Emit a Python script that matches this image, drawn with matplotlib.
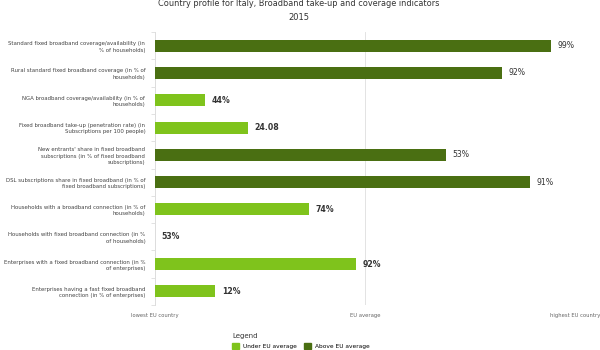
import numpy as np
import matplotlib.pyplot as plt
from matplotlib.patches import Patch

indicators = [
    'Standard fixed broadband coverage/availability (in\n% of households)',
    'Rural standard fixed broadband coverage (in % of\nhouseholds)',
    'NGA broadband coverage/availability (in % of\nhouseholds)',
    'Fixed broadband take-up (penetration rate) (in\nSubscriptions per 100 people)',
    "New entrants' share in fixed broadband\nsubscriptions (in % of fixed broadband\nsubscriptions)",
    'DSL subscriptions share in fixed broadband (in % of\nfixed broadband subscriptions)',
    'Households with a broadband connection (in % of\nhouseholds)',
    'Households with fixed broadband connection (in %\nof households)',
    'Enterprises with a fixed broadband connection (in %\nof enterprises)',
    'Enterprises having a fast fixed broadband\nconnection (in % of enterprises)',
]
value_labels = ['99%', '92%', '44%', '24.08', '53%', '91%', '74%', '53%', '92%', '12%']
# position between lowest (0) and highest (100) EU country, EU average at 50
score = [94.3, 82.6, 11.9, 22.1, 69.3, 89.3, 36.7, 0.0, 47.9, 14.3]
above_avg = [True, True, False, False, True, True, False, False, False, False]

scale_ticks = [0, 50, 100]
scale_labels = ['lowest EU country', 'EU average', 'highest EU country']

dark_green = '#4a6f12'
light_green = '#7fc31c'

fig = plt.figure(figsize=(6, 3.5), dpi=100)
ax = fig.add_axes([155/600, 1 - 305/350, 420/600, 273/350])

y = np.arange(len(indicators))
colors = [dark_green if a else light_green for a in above_avg]
ax.barh(y, score, height=0.44, color=colors, zorder=3)

for yi, s, lab, a in zip(y, score, value_labels, above_avg):
    ax.text(s + 1.6, yi, lab, va='center', ha='left', fontsize=5.6,
            fontweight='normal' if a else 'bold', color='#333333')

ax.set_xlim(0, 100)
ax.set_ylim(len(indicators) - 0.5, -0.5)
ax.set_yticks(y)
ax.set_yticklabels(indicators, fontsize=3.9, color='#444444', linespacing=1.35)
ax.set_yticks(np.arange(len(indicators) + 1) - 0.5, minor=True)
ax.tick_params(axis='y', which='major', length=0, pad=7)
ax.tick_params(axis='y', which='minor', length=3, color='#dddddd', width=0.6)

ax.set_xticks(scale_ticks)
ax.set_xticklabels(scale_labels, fontsize=3.8, color='#666666')
ax.tick_params(axis='x', length=0, pad=6)
ax.grid(axis='x', color='#e3e3e3', linewidth=0.7, zorder=0)

for side in ['top', 'right', 'bottom']:
    ax.spines[side].set_visible(False)
ax.spines['left'].set_color('#dddddd')
ax.spines['left'].set_linewidth(0.7)

fig.text(0.497, 1 - 3.5/350, 'Country profile for Italy, Broadband take-up and coverage indicators',
         ha='center', va='center', fontsize=5.9, color='#333333')
fig.text(0.498, 1 - 18/350, '2015', ha='center', va='center', fontsize=6, color='#333333')

handles = [Patch(color=light_green, label='Under EU average'),
           Patch(color=dark_green, label='Above EU average')]
leg = fig.legend(handles=handles, ncol=2, title='Legend', loc='upper left',
                 bbox_to_anchor=(228/600, 1 - 329/350), frameon=False,
                 fontsize=4.2, title_fontsize=5, handlelength=1.2, handleheight=1.2,
                 columnspacing=1.3, handletextpad=0.6, borderpad=0.2, labelspacing=0.6)
leg._legend_box.align = 'left'
leg.get_title().set_color('#333333')

fig.savefig('out.png', dpi=100)
